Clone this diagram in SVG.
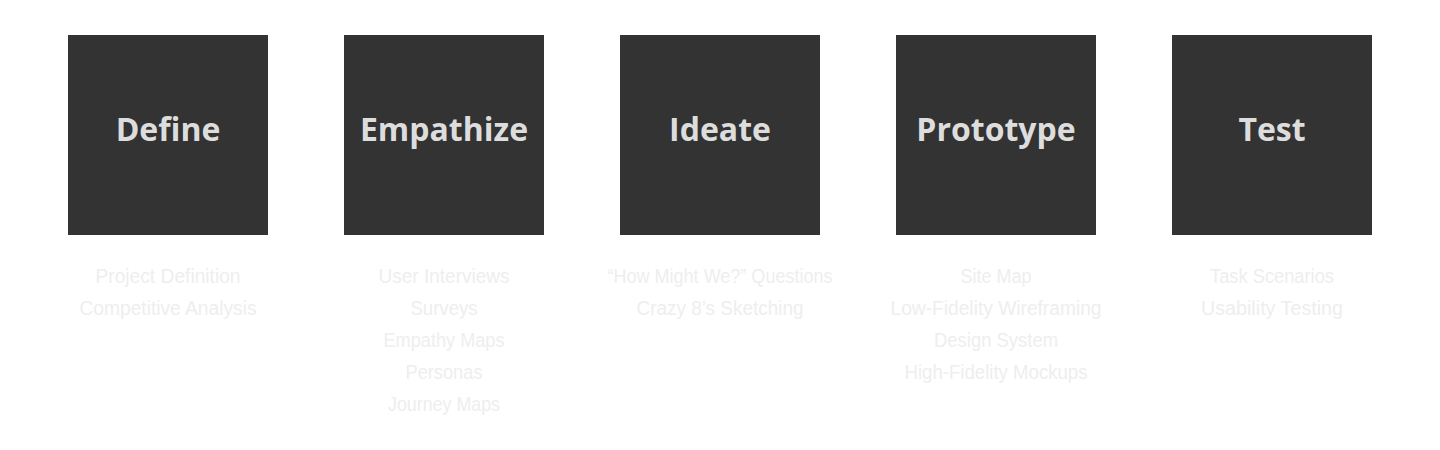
<svg xmlns="http://www.w3.org/2000/svg" width="1440" height="450" viewBox="0 0 1440 450">
<style>
.box{fill:#333333}
.title{font-family:"Open Sans","Noto Sans",sans-serif;font-weight:700;font-size:32px;fill:#dddddd;text-anchor:middle}
.item{font-family:"Liberation Sans","Noto Sans",sans-serif;font-size:20px;fill:#eeeeee;text-anchor:middle}
</style>
<rect width="1440" height="450" fill="#ffffff"/>
<g id="node-define">
<rect class="box" x="68" y="35" width="200" height="200"/>
<text class="title" x="168" y="141">Define</text>
<text class="item" x="168" y="283" textLength="145" lengthAdjust="spacingAndGlyphs">Project Definition</text>
<text class="item" x="168" y="315" textLength="177" lengthAdjust="spacingAndGlyphs">Competitive Analysis</text>
</g>
<g id="node-empathize">
<rect class="box" x="344" y="35" width="200" height="200"/>
<text class="title" x="444" y="141">Empathize</text>
<text class="item" x="444" y="283" textLength="131" lengthAdjust="spacingAndGlyphs">User Interviews</text>
<text class="item" x="444" y="315" textLength="67" lengthAdjust="spacingAndGlyphs">Surveys</text>
<text class="item" x="444" y="347" textLength="121" lengthAdjust="spacingAndGlyphs">Empathy Maps</text>
<text class="item" x="444" y="379" textLength="77" lengthAdjust="spacingAndGlyphs">Personas</text>
<text class="item" x="444" y="411" textLength="112" lengthAdjust="spacingAndGlyphs">Journey Maps</text>
</g>
<g id="node-ideate">
<rect class="box" x="620" y="35" width="200" height="200"/>
<text class="title" x="720" y="141">Ideate</text>
<text class="item" x="720" y="283" textLength="225" lengthAdjust="spacingAndGlyphs">“How Might We?” Questions</text>
<text class="item" x="720" y="315" textLength="167" lengthAdjust="spacingAndGlyphs">Crazy 8’s Sketching</text>
</g>
<g id="node-prototype">
<rect class="box" x="896" y="35" width="200" height="200"/>
<text class="title" x="996" y="141">Prototype</text>
<text class="item" x="996" y="283" textLength="71" lengthAdjust="spacingAndGlyphs">Site Map</text>
<text class="item" x="996" y="315" textLength="211" lengthAdjust="spacingAndGlyphs">Low-Fidelity Wireframing</text>
<text class="item" x="996" y="347" textLength="124" lengthAdjust="spacingAndGlyphs">Design System</text>
<text class="item" x="996" y="379" textLength="183" lengthAdjust="spacingAndGlyphs">High-Fidelity Mockups</text>
</g>
<g id="node-test">
<rect class="box" x="1172" y="35" width="200" height="200"/>
<text class="title" x="1272" y="141">Test</text>
<text class="item" x="1272" y="283" textLength="124" lengthAdjust="spacingAndGlyphs">Task Scenarios</text>
<text class="item" x="1272" y="315" textLength="142" lengthAdjust="spacingAndGlyphs">Usability Testing</text>
</g>
<g id="connectors"></g>
</svg>
